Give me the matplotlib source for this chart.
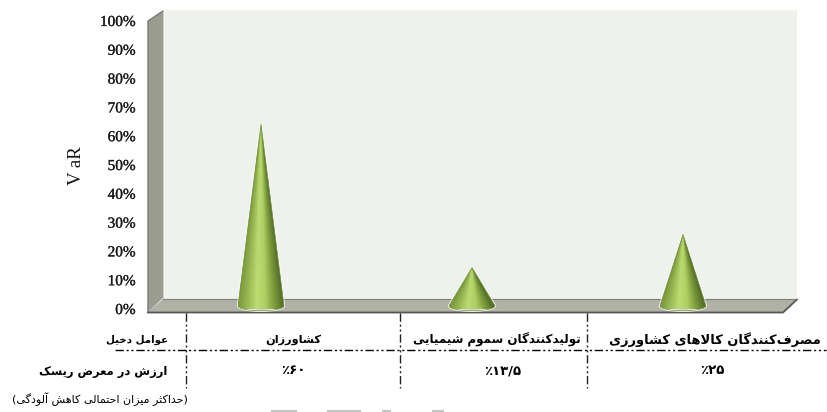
import unicodedata
import numpy as np
import matplotlib
matplotlib.use("Agg")
import matplotlib.pyplot as plt
import matplotlib.patheffects as pe
from matplotlib.colors import LinearSegmentedColormap
from matplotlib.patches import Polygon, PathPatch
from matplotlib.path import Path

# ---------- data ----------
categories = ["کشاورزان", "تولیدکنندگان سموم شیمیایی", "مصرف\u200cکنندگان کالاهای کشاورزی"]
values = [63.1, 13.3, 24.8]
value_labels = ["٪۶۰", "٪۱۳/۵", "٪۲۵"]
y_ticks = [0, 10, 20, 30, 40, 50, 60, 70, 80, 90, 100]
y_label = "V aR"
row_head_1 = "عوامل دخیل"
row_head_2 = "ارزش در معرض ریسک"
row_note = "حداکثر میزان احتمالی کاهش آلودگی"


# ---------- Persian shaping (matplotlib has no text shaping) ----------
FORMS = {}
for code in list(range(0xFB50, 0xFC00)) + list(range(0xFE70, 0xFF00)):
    d = unicodedata.decomposition(chr(code)).split()
    if len(d) == 2 and d[0] in ("<isolated>", "<final>", "<initial>", "<medial>"):
        FORMS.setdefault(chr(int(d[1], 16)), {})[d[0][1:-1]] = chr(code)
LAM_ALEF = {"isolated": "\uFEFB", "final": "\uFEFC"}


def shape(text):
    chars, i = [], 0
    while i < len(text):
        if text[i] == "\u0644" and i + 1 < len(text) and text[i + 1] == "\u0627":
            chars.append("LA")
            i += 2
        else:
            chars.append(text[i])
            i += 1

    def joins_next(c):
        return c == "\u0644" or (c in FORMS and "initial" in FORMS[c])

    def is_letter(c):
        return c in FORMS or c == "LA"

    out = []
    for k, c in enumerate(chars):
        prev = chars[k - 1] if k else None
        nxt = chars[k + 1] if k + 1 < len(chars) else None
        from_prev = prev is not None and joins_next(prev)
        if c == "LA":
            out.append(LAM_ALEF["final" if from_prev else "isolated"])
            continue
        if c == "\u200c":
            continue
        if c not in FORMS:
            out.append(c)
            continue
        to_next = nxt is not None and is_letter(nxt) and joins_next(c)
        f = FORMS[c]
        if from_prev and to_next and "medial" in f:
            out.append(f["medial"])
        elif from_prev and "final" in f:
            out.append(f["final"])
        elif to_next and "initial" in f:
            out.append(f["initial"])
        else:
            out.append(f.get("isolated", c))
    return "".join(reversed(out))


# ---------- figure ----------
W, H = 827, 412
fig = plt.figure(figsize=(W / 100, H / 100), dpi=100, facecolor="white")

bg = fig.add_axes([0, 0, 1, 1], zorder=0)
bg.set_xlim(0, W)
bg.set_ylim(H, 0)
bg.axis("off")

# 3-D box
bg.add_patch(Polygon([(163, 10), (797, 10), (797, 299), (163, 299)], fc="#eff1ec", ec="none"))
bg.add_patch(Polygon([(163, 10), (165, 10), (165, 299), (163, 299)], fc="#fbfcfa", ec="none"))
bg.add_patch(Polygon([(148, 21), (163, 11), (163, 298), (148, 312)], fc="#9a9c92", ec="none"))
bg.plot([148, 148, 163], [312, 21, 11], color="#77796f", lw=1)
bg.plot([163, 163], [11, 298], color="#c9cac4", lw=0.8)
bg.add_patch(Polygon([(148, 312), (783, 312), (797, 299), (163, 299)], fc="#b0b2a8", ec="none"))
bg.plot([148, 783, 797], [312.5, 312.5, 299.5], color="#55564f", lw=1.3)
bg.plot([163, 797], [299, 299], color="#7d7f76", lw=0.8)

# table rules
dash = (0, (6, 2, 1.5, 2, 1.5, 2))
bg.plot([115, 826], [350, 350], color="black", lw=1, ls=dash)
for x in (186, 400, 586.5):
    bg.plot([x, x], [313, 388], color="#222222", lw=1, ls=dash)

# table text
table_font = dict(family="DejaVu Sans", color="black", va="center", ha="center", fontweight="bold")
cat_x = [293, 497, 715]
cat_sizes = [8.2, 8.6, 9.4]
val_x = [293, 503, 712]
for cx, size, vx, cat, lab in zip(cat_x, cat_sizes, val_x, categories, value_labels):
    bg.text(cx, 340, shape(cat), fontsize=size, **table_font)
    bg.text(vx, 371, lab, fontsize=9.5, **table_font)
bg.text(168, 340, shape(row_head_1), fontsize=7.4, fontweight="bold",
        family="DejaVu Sans", color="black", va="center", ha="right")
bg.text(167, 371, shape(row_head_2), fontsize=8.3, fontweight="bold",
        family="DejaVu Sans", color="black", va="center", ha="right")
bg.text(188, 399, "(" + shape(row_note) + ")", fontsize=8.0,
        family="DejaVu Sans", color="black", va="center", ha="right")

# scanned-page remnants along the bottom edge
for x0, x1 in [(272, 296), (328, 360), (383, 390), (433, 443)]:
    bg.plot([x0, x1], [411, 411], color="#c4c4c4", lw=1.5)

# data axes: 0% at y=309 px, 100% at y=21 px; x=0 at 261 px with 211 px per category
left, right, top, bottom = 148, 797, 21, 309
ax = fig.add_axes([left / W, 1 - bottom / H, (right - left) / W, (bottom - top) / H],
                  zorder=1, facecolor="none")
ax.set_xlim((left - 261) / 211, (right - 261) / 211)
ax.set_ylim(0, 100)
for s in ax.spines.values():
    s.set_visible(False)
ax.set_xticks([])
ax.set_yticks(y_ticks)
ax.set_yticklabels([f"{t}%" for t in y_ticks], family="Liberation Serif", fontsize=11,
                   color="#1a1a1a",
                   path_effects=[pe.withStroke(linewidth=0.2, foreground="#1a1a1a")])
ax.tick_params(axis="y", length=0, pad=9)
ax.set_ylabel(y_label, family="Liberation Serif", fontsize=13.5, color="#111111")
ax.yaxis.set_label_coords((85 - left) / (right - left), (bottom - 166) / (bottom - top))

# cones
cone_cmap = LinearSegmentedColormap.from_list(
    "cone", ["#7c9b3e", "#9aba55", "#bcdb72", "#add063", "#7e9c3c", "#54702a"])
half_w = 23 / 211          # base half width, category units
base_y = 1.1               # depth offset of cone base centre, %
ell_h = 1.7                # base ellipse half height, %

for i, v in enumerate(values):
    t = np.linspace(0, 1, 300)[:, None]
    u = np.linspace(-1, 1, 200)[None, :]
    g = np.clip((u / np.clip(t, 0.02, 1) + 1) / 2, 0, 1)
    th = np.linspace(0, np.pi, 40)
    ex = i + half_w * np.cos(th)
    ey = base_y - ell_h * np.sin(th)
    verts = [(i, v + base_y)] + list(zip(ex, ey)) + [(i, v + base_y)]
    codes = [Path.MOVETO] + [Path.LINETO] * (len(verts) - 2) + [Path.CLOSEPOLY]
    path = Path(verts, codes)
    ax.add_patch(PathPatch(path, fc="none", ec="white", lw=1.6, zorder=2, clip_on=False))
    im = ax.imshow(g, extent=(i - half_w, i + half_w, base_y - ell_h, v + base_y),
                   origin="upper", aspect="auto", cmap=cone_cmap, vmin=0, vmax=1, zorder=3)
    im.set_clip_path(PathPatch(path, transform=ax.transData, fc="none", ec="none"))
    ax.add_patch(PathPatch(path, fc="none", ec="#6f8c38", lw=0.5, zorder=4, clip_on=False))

ax.set_xlim((left - 261) / 211, (right - 261) / 211)
ax.set_ylim(0, 100)

fig.savefig("out.png", dpi=100, facecolor="white")
